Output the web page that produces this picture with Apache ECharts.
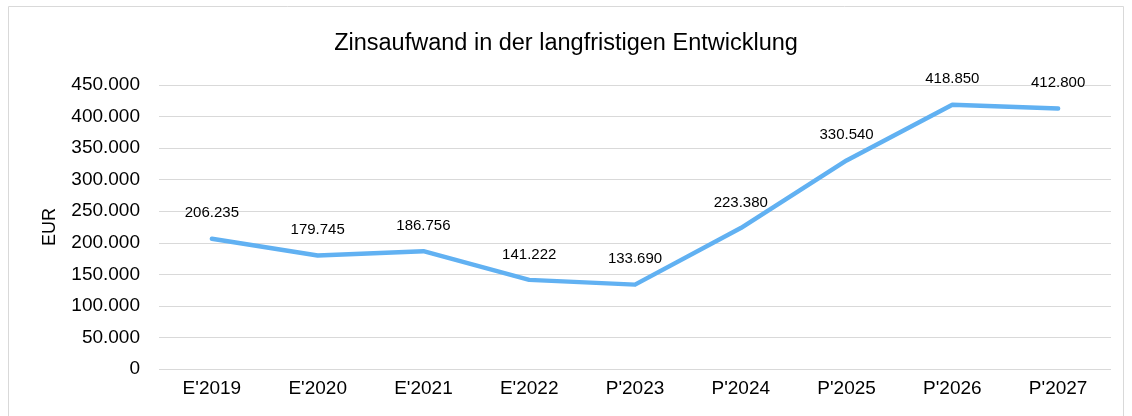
<!DOCTYPE html>
<html>
<head>
<meta charset="utf-8">
<script src="https://cdn.jsdelivr.net/npm/echarts@6/dist/echarts.min.js"></script>
<style>
	html, body { margin: 0; padding: 0; background: #ffffff; }
	#chart { width: 1132px; height: 416px; }
</style>
</head>
<body>
<div id="chart"></div>
<script>
	// Daten
	const categories = ["E'2019", "E'2020", "E'2021", "E'2022", "P'2023", "P'2024", "P'2025", "P'2026", "P'2027"]
	const zinsaufwand = [206235, 179745, 186756, 141222, 133690, 223380, 330540, 418850, 412800]

	const fmt = v => String(v).replace(/\B(?=(\d{3})+(?!\d))/g, '.')

	const chart = echarts.init(document.getElementById('chart'))
	chart.setOption({
		animation: false,
		textStyle: { fontFamily: 'Liberation Sans, Arial, sans-serif' },
		title: {
			text: 'Zinsaufwand in der langfristigen Entwicklung',
			left: 'center',
			top: 27,
			textStyle: { fontSize: 23.5, fontWeight: 'normal', color: '#000000' }
		},
		graphic: [{
			type: 'rect',
			shape: { x: 8.5, y: 6.5, width: 1115, height: 420 },
			style: { fill: 'none', stroke: '#d9d9d9', lineWidth: 1 },
			silent: true
		}],
		grid: { left: 159, right: 21, top: 85, bottom: 47 },
		xAxis: {
			type: 'category',
			data: categories,
			axisTick: { show: false },
			axisLine: { show: false },
			axisLabel: { color: '#000000', fontSize: 19, margin: 10 }
		},
		yAxis: {
			type: 'value',
			min: 0,
			max: 450000,
			interval: 50000,
			name: 'EUR',
			nameLocation: 'middle',
			nameGap: 100,
			nameTextStyle: { color: '#000000', fontSize: 18 },
			axisLine: { show: false },
			axisTick: { show: false },
			axisLabel: { color: '#000000', fontSize: 19, margin: 19, formatter: fmt },
			splitLine: { lineStyle: { color: '#d9d9d9', width: 1 } }
		},
		series: [{
			name: 'Zinsaufwand',
			type: 'line',
			data: zinsaufwand,
			showSymbol: true,
			symbol: 'circle',
			symbolSize: 2,
			itemStyle: { color: 'rgba(99,179,243,0)', borderWidth: 0 },
			lineStyle: { color: '#61b1f2', width: 4.5, cap: 'round', join: 'round' },
			label: {
				show: true,
				position: 'top',
				distance: 17,
				fontSize: 15,
				color: '#000000',
				formatter: p => fmt(p.value)
			}
		}]
	})
</script>
</body>
</html>
